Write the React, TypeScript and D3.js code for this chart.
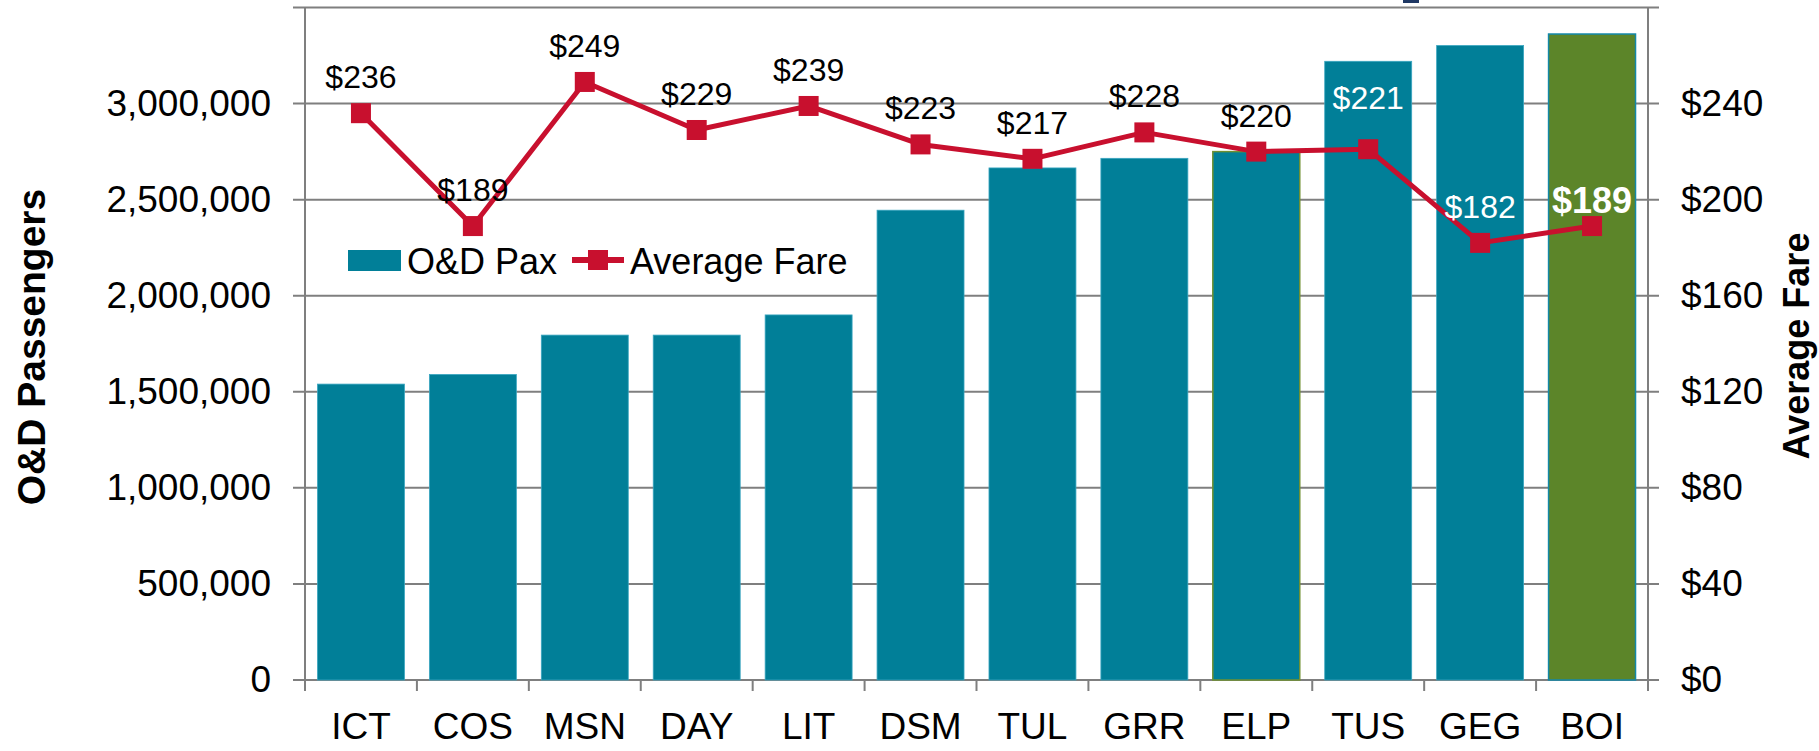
import React, { useEffect, useRef } from "react";
import * as d3 from "d3";

const airports = ["ICT", "COS", "MSN", "DAY", "LIT", "DSM", "TUL", "GRR", "ELP", "TUS", "GEG", "BOI"];
const odPax = [1540000, 1590000, 1795000, 1795000, 1900000, 2445000, 2665000, 2715000, 2750000, 3220000, 3302000, 3362000];
const avgFare = [236, 189, 249, 229, 239, 223, 217, 228, 220, 221, 182, 189];
const paxTicks = [0, 500000, 1000000, 1500000, 2000000, 2500000, 3000000];
const fareTicks = [0, 40, 80, 120, 160, 200, 240];
const paxMax = 3500000;
const fareMax = 280;

const TEAL = "#017f98";
const GREEN = "#5c8529";
const RED = "#c8102e";
const GRID = "#7f7f7f";
const FONT = "'Liberation Sans', Arial, sans-serif";

export default function App() {
  const svgRef = useRef<SVGSVGElement>(null);

  useEffect(() => {
    if (!svgRef.current) return;
    const svg = d3.select(svgRef.current);
    svg.selectAll("*").remove();

    const left = 305;
    const right = 1648;
    const top = 7.5;
    const bottom = 680;

    const x = d3
      .scaleBand<string>()
      .domain(airports)
      .range([left, right])
      .paddingInner(0.223)
      .paddingOuter(0.1115);
    const yPax = d3.scaleLinear().domain([0, paxMax]).range([bottom, top]);
    const yFare = d3.scaleLinear().domain([0, fareMax]).range([bottom, top]);
    const cx = (d: string) => (x(d) || 0) + x.bandwidth() / 2;

    // gridlines (run through both axes' tick marks)
    svg
      .append("g")
      .selectAll("line")
      .data([...paxTicks, paxMax])
      .enter()
      .append("line")
      .attr("x1", left - 12)
      .attr("x2", right + 11)
      .attr("y1", (d) => yPax(d))
      .attr("y2", (d) => yPax(d))
      .attr("stroke", GRID)
      .attr("stroke-width", 2);

    // bars
    svg
      .append("g")
      .selectAll("rect")
      .data(airports)
      .enter()
      .append("rect")
      .attr("x", (d) => x(d) || 0)
      .attr("y", (_d, i) => yPax(odPax[i]))
      .attr("width", x.bandwidth())
      .attr("height", (_d, i) => bottom - yPax(odPax[i]))
      .attr("fill", (d) => (d === "BOI" ? GREEN : TEAL))
      .attr("stroke", (d) => (d === "BOI" ? "#1488a8" : d === "ELP" ? "#6f9030" : "#3aa6c0"))
      .attr("stroke-width", (d) => (d === "BOI" || d === "ELP" ? 1.5 : 0.8));

    // axis lines
    svg.append("line").attr("x1", left).attr("x2", left).attr("y1", top).attr("y2", bottom + 11)
      .attr("stroke", GRID).attr("stroke-width", 2);
    svg.append("line").attr("x1", right).attr("x2", right).attr("y1", top).attr("y2", bottom + 11)
      .attr("stroke", GRID).attr("stroke-width", 2);

    // category tick marks at band boundaries
    svg
      .append("g")
      .selectAll("line")
      .data(d3.range(airports.length + 1))
      .enter()
      .append("line")
      .attr("x1", (i) => left + i * x.step())
      .attr("x2", (i) => left + i * x.step())
      .attr("y1", bottom)
      .attr("y2", bottom + 11)
      .attr("stroke", GRID)
      .attr("stroke-width", 2);

    const leftAxis = svg
      .append("g")
      .attr("transform", `translate(${left},0)`)
      .call(
        d3.axisLeft(yPax).tickValues(paxTicks).tickSize(0).tickPadding(34)
          .tickFormat((d) => d3.format(",")(d as number)),
      );
    const rightAxis = svg
      .append("g")
      .attr("transform", `translate(${right},0)`)
      .call(
        d3.axisRight(yFare).tickValues(fareTicks).tickSize(0).tickPadding(33)
          .tickFormat((d) => `$${d}`),
      );
    const bottomAxis = svg
      .append("g")
      .attr("transform", `translate(0,${bottom})`)
      .call(d3.axisBottom(x).tickSize(0).tickPadding(33));

    [leftAxis, rightAxis, bottomAxis].forEach((a) => {
      a.select(".domain").remove();
      a.selectAll("text")
        .style("font-family", FONT)
        .style("font-size", "37px")
        .style("fill", "#000");
    });

    // axis titles
    svg.append("text")
      .attr("transform", "translate(31,347) rotate(-90)")
      .attr("text-anchor", "middle")
      .attr("dominant-baseline", "central")
      .style("font-family", FONT)
      .style("font-size", "39px")
      .style("font-weight", "bold")
      .text("O&D Passengers");
    svg.append("text")
      .attr("transform", "translate(1796,346) rotate(-90)")
      .attr("text-anchor", "middle")
      .attr("dominant-baseline", "central")
      .style("font-family", FONT)
      .style("font-size", "36px")
      .style("font-weight", "bold")
      .text("Average Fare");

    // fare line
    const line = d3
      .line<number>()
      .x((_d, i) => cx(airports[i]))
      .y((d) => yFare(d));
    svg.append("path")
      .datum(avgFare)
      .attr("fill", "none")
      .attr("stroke", RED)
      .attr("stroke-width", 5)
      .attr("stroke-linejoin", "round")
      .attr("d", line);

    svg
      .append("g")
      .selectAll("rect")
      .data(avgFare)
      .enter()
      .append("rect")
      .attr("x", (_d, i) => cx(airports[i]) - 10)
      .attr("y", (d) => yFare(d) - 10)
      .attr("width", 20)
      .attr("height", 20)
      .attr("fill", RED);

    // data labels
    const lift: Record<string, number> = { TUS: 40, BOI: 13 };
    const whiteLabels = ["TUS", "GEG", "BOI"];
    svg
      .append("g")
      .selectAll("text")
      .data(avgFare)
      .enter()
      .append("text")
      .attr("x", (_d, i) => cx(airports[i]))
      .attr("y", (d, i) => yFare(d) - (lift[airports[i]] ?? 25))
      .attr("text-anchor", "middle")
      .style("font-family", FONT)
      .style("font-size", (_d, i) => (airports[i] === "BOI" ? "36px" : "32px"))
      .style("font-weight", (_d, i) => (airports[i] === "BOI" ? "bold" : "normal"))
      .style("fill", (_d, i) => (whiteLabels.includes(airports[i]) ? "#fff" : "#000"))
      .text((d) => `$${d}`);

    // legend
    const lg = svg.append("g").style("font-family", FONT).style("font-size", "36px");
    lg.append("rect").attr("x", 348).attr("y", 250).attr("width", 53).attr("height", 21).attr("fill", TEAL);
    lg.append("text").attr("x", 407).attr("y", 274).text("O&D Pax");
    lg.append("line").attr("x1", 572).attr("x2", 624).attr("y1", 260).attr("y2", 260)
      .attr("stroke", RED).attr("stroke-width", 6);
    lg.append("rect").attr("x", 588).attr("y", 250).attr("width", 20).attr("height", 20).attr("fill", RED);
    lg.append("text").attr("x", 630).attr("y", 274).text("Average Fare");

    // cropped fragment of an element above the chart
    svg.append("rect").attr("x", 1403).attr("y", 0).attr("width", 16).attr("height", 3).attr("fill", "#1f3864");
  }, []);

  return (
    <svg
      ref={svgRef}
      width={1819}
      height={751}
      style={{ position: "absolute", left: 0, top: 0, background: "#fff" }}
    />
  );
}
